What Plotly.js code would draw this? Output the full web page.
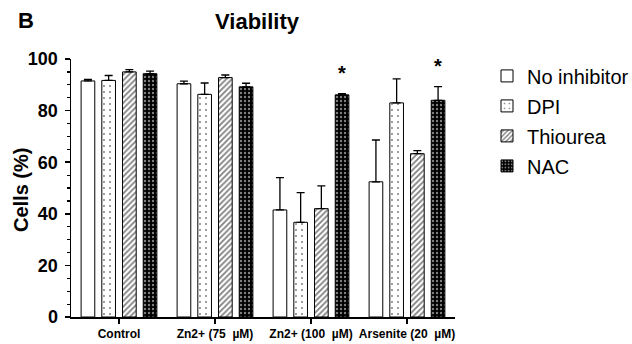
<!DOCTYPE html>
<html>
<head>
<meta charset="utf-8">
<script src="https://cdn.plot.ly/plotly-3.0.1.min.js"></script>
<style>
  html, body { margin: 0; padding: 0; background: #fff; overflow: hidden; }
  #chart { width: 660px; height: 344px; }
</style>
</head>
<body>
<div id="chart"></div>
<script>
// Treatment groups on the x axis
const categories = ['Control', 'Zn2+ (75 \u00a0\u00b5M)', 'Zn2+ (100 \u00a0\u00b5M)', 'Arsenite (20 \u00a0\u00b5M)'];

// Mean viability (%) per inhibitor condition
const noInhibitor = [91.5, 90.4, 41.5, 52.4];
const dpi         = [91.7, 86.3, 36.7, 83.0];
const thiourea    = [95.0, 92.8, 42.0, 63.3];
const nac         = [94.3, 89.2, 86.1, 84.0];

// Upper error (SD) per condition
const noInhibitorErr = [0.6, 1.0, 12.5, 16.2];
const dpiErr         = [1.9, 4.4, 11.5, 9.3];
const thioureaErr    = [0.9, 1.0, 8.8, 1.2];
const nacErr         = [1.0, 1.4, 0.5, 5.3];

// Significance markers on the NAC series
const significant = [false, false, true, true];

const seriesNames = ['No inhibitor', 'DPI', 'Thiourea', 'NAC'];

const FONT = 'Liberation Sans, Arial, sans-serif';

// Canvas is a little wider than the visible 632 px so the legend is not clamped
const W = 660, H = 344, L = 71, T = 59, B = 27;
const plotRight = 455;
const R = W - plotRight;
const plotW = plotRight - L;
const plotH = H - T - B;

function errBar(arr) {
  return {
    type: 'data', array: arr, arrayminus: arr.map(() => 0), symmetric: false,
    color: '#000', thickness: 1.3, width: 4
  };
}

const patterns = [
  { shape: '' },
  { shape: '.', fgcolor: '#000', bgcolor: '#fff', size: 6, solidity: 0.09, fillmode: 'overlay' },
  { shape: '/', fgcolor: '#000', bgcolor: '#fff', size: 4, solidity: 0.45, fillmode: 'overlay' },
  { shape: '.', fgcolor: '#fff', bgcolor: '#000', size: 4, solidity: 0.28, fillmode: 'overlay' }
];

const values = [noInhibitor, dpi, thiourea, nac];
const errors = [noInhibitorErr, dpiErr, thioureaErr, nacErr];

const traces = values.map((v, i) => ({
  type: 'bar',
  name: seriesNames[i],
  legendgroup: 'g' + i,
  x: categories,
  y: v,
  error_y: errBar(errors[i]),
  marker: {
    color: '#fff',
    line: { color: '#000', width: 1 },
    pattern: patterns[i]
  },
  hoverinfo: 'skip'
}));

// Asterisks above significant NAC bars (NAC is the 4th bar in each group)
const annotations = categories.map((c, i) => significant[i] ? {
  x: c, y: nac[i] + nacErr[i], xref: 'x', yref: 'y',
  text: '*', showarrow: false, xshift: 31, yshift: 8, yanchor: 'bottom',
  font: { family: FONT, size: 20, color: '#000', weight: 'bold' }
} : null).filter(a => a);

// Panel letter
annotations.push({
  xref: 'paper', yref: 'paper', x: (16 - L) / plotW, y: 1 + (T - 21) / plotH,
  text: 'B', showarrow: false, xanchor: 'left', yanchor: 'middle',
  font: { family: FONT, size: 22, color: '#000', weight: 'bold' }
});

// Y axis title
annotations.push({
  xref: 'paper', yref: 'paper', x: (21 - L) / plotW, y: 1 - (190 - T) / plotH,
  text: 'Cells (%)', textangle: -90, showarrow: false, xanchor: 'center', yanchor: 'middle',
  font: { family: FONT, size: 20, color: '#000', weight: 'bold' }
});

const layout = {
  width: W, height: H,
  margin: { l: L, r: R, t: T, b: B, pad: 0, autoexpand: false },
  paper_bgcolor: '#fff', plot_bgcolor: '#fff',
  font: { family: FONT, color: '#000' },
  title: {
    text: 'Viability',
    font: { family: FONT, size: 22, color: '#000', weight: 'bold' },
    xref: 'container', x: 257 / W, xanchor: 'center',
    yref: 'container', y: 1 - 21 / H, yanchor: 'middle'
  },
  barmode: 'group',
  bargap: 0.137,
  bargroupgap: 0.34,
  showlegend: true,
  legend: {
    x: (487 - L) / plotW, xanchor: 'left', y: 1.01, yanchor: 'top',
    font: { family: FONT, size: 20, color: '#000' },
    traceorder: 'grouped', tracegroupgap: 1,
    bgcolor: 'rgba(0,0,0,0)'
  },
  xaxis: {
    type: 'category', automargin: false,
    showline: true, linecolor: '#000', linewidth: 1.5,
    ticks: 'outside', ticklen: 5, tickwidth: 1.5, tickcolor: '#000',
    tickfont: { family: FONT, size: 12, color: '#000', weight: 'bold' },
    showgrid: false, zeroline: false, fixedrange: true
  },
  yaxis: {
    range: [0, 100], automargin: false,
    showline: true, linecolor: '#000', linewidth: 1.5,
    ticks: 'outside', ticklen: 5, tickwidth: 1.5, tickcolor: '#000',
    ticklabelstandoff: 3,
    dtick: 20, tick0: 0,
    minor: { dtick: 5, ticks: 'outside', ticklen: 3, tickwidth: 1.2, tickcolor: '#000', showgrid: false },
    tickfont: { family: FONT, size: 18, color: '#000', weight: 'bold' },
    showgrid: false, zeroline: false, fixedrange: true
  },
  annotations: annotations
};

Plotly.newPlot('chart', traces, layout, { displayModeBar: false, staticPlot: true });
</script>
</body>
</html>
